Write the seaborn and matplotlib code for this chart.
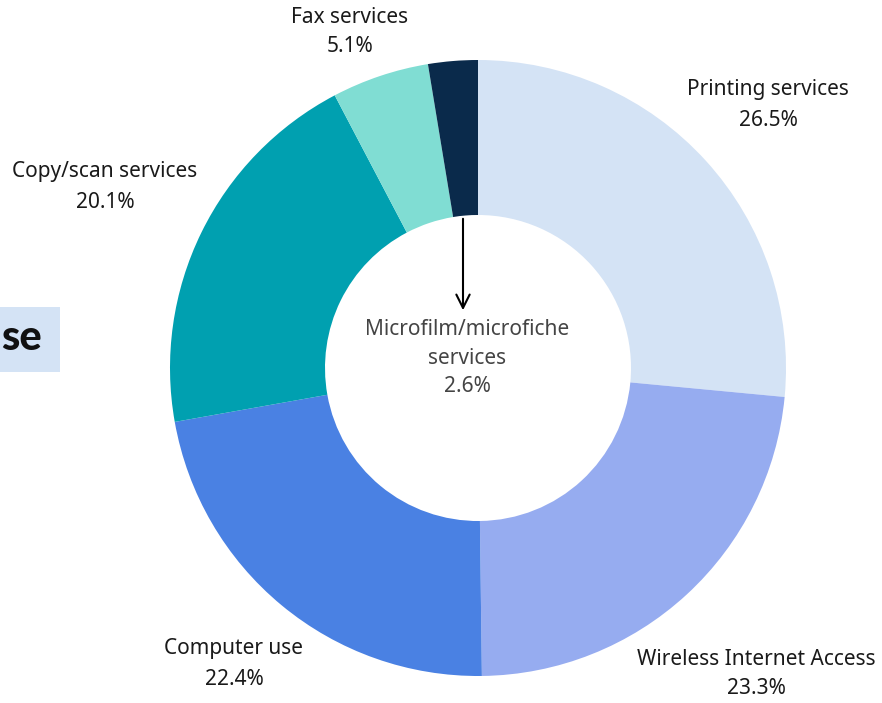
import matplotlib
matplotlib.use('Agg')
import matplotlib.pyplot as plt
from matplotlib.patches import Rectangle
import seaborn as sns

# data
services = ['Printing services', 'Wireless Internet Access', 'Computer use',
            'Copy/scan services', 'Fax services', 'Microfilm/microfiche\nservices']
shares = [26.5, 23.3, 22.4, 20.1, 5.1, 2.6]
colors = ['#d4e3f5', '#96acf0', '#4a81e3', '#00a0b0', '#80ddd3', '#0a2a4b']

sns.set_theme(style='white')
plt.rcParams['font.family'] = ['Noto Sans', 'DejaVu Sans']

H = 703
fig = plt.figure(figsize=(8.82, 7.03), dpi=100)
ax = fig.add_axes([0, 0, 1, 1])

# donut, centre and radii in pixels
cx, cy = 478, 368
R, r = 308, 153
ax.pie(shares, colors=sns.color_palette(colors), startangle=90,
       counterclock=False, center=(cx, H - cy), radius=R,
       wedgeprops=dict(width=R - r, linewidth=0), frame=True)
ax.set_xlim(0, 882)
ax.set_ylim(0, H)
ax.axis('off')

def lab(x, y, name, pct, ls=1.65, color='#1a1a1a'):
    ax.text(x, H - y, f'{name}\n{pct:.1f}%', ha='center', va='center',
            fontsize=15, color=color, linespacing=ls)

lab(768, 105, services[0], shares[0])
lab(756, 674, services[1], shares[1], ls=1.5)
lab(234, 664, services[2], shares[2])
lab(105, 187, services[3], shares[3])
lab(350, 32, services[4], shares[4], ls=1.45)
ax.text(467, H - 358, f'{services[5]}\n{shares[5]:.1f}%', ha='center',
        va='center', fontsize=15, color='#444444', linespacing=1.45)

ax.annotate('', xy=(463, H - 313), xytext=(463, H - 216),
            arrowprops=dict(arrowstyle='->', color='black', lw=1.5,
                            mutation_scale=24))

# cropped heading box at the left edge
ax.add_patch(Rectangle((0, H - 372), 60, 65, color='#d4e3f5', lw=0))
ax.text(1, H - 338, 'se', ha='left', va='center', fontsize=30,
        fontweight='black', color='#111111', family=['Lato', 'DejaVu Sans'])

fig.savefig('out.png', dpi=100)
